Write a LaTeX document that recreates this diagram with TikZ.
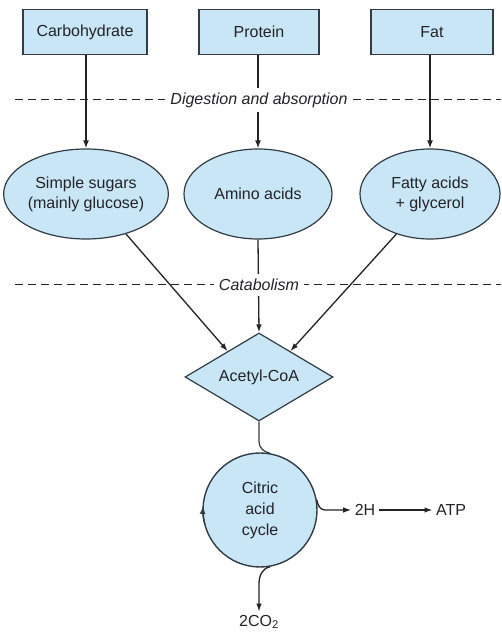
\documentclass[tikz,border=0pt]{standalone}
\usepackage{fontspec}
\setmainfont{Liberation Sans}
\usetikzlibrary{shapes.geometric,arrows.meta,calc}
\definecolor{boxfill}{RGB}{200,230,246}
\definecolor{edge}{RGB}{50,60,68}
\definecolor{ink}{RGB}{35,35,40}
\begin{document}
\begin{tikzpicture}[x=1pt,y=1pt,
  every node/.style={font=\fontsize{16}{20}\selectfont, text=ink},
  foodbox/.style={draw=edge, line width=1.3pt, fill=boxfill, rectangle, minimum height=45pt, inner sep=0pt},
  prodell/.style={draw=edge, line width=1.2pt, fill=boxfill, ellipse, minimum height=90pt, inner sep=0pt, align=center},
  stagelbl/.style={fill=white, inner sep=5pt, font=\itshape\fontsize{16}{20}\selectfont},
  stageline/.style={draw=ink, line width=1pt, dash pattern=on 8pt off 5pt},
  thickarr/.style={draw=ink, line width=1.8pt, -{Latex[length=8pt,width=6pt]}},
  thinarr/.style={draw=ink, line width=1.3pt, -{Latex[length=8pt,width=5.5pt]}},
  plainline/.style={draw=edge, line width=1.2pt}]
\useasboundingbox (0,0) rectangle (501,632);

% source boxes
\node[foodbox, minimum width=124pt] (carb) at (85,600) {Carbohydrate};
\node[foodbox, minimum width=120pt] (prot) at (259,600) {Protein};
\node[foodbox, minimum width=122pt] (fat) at (432,600) {Fat};

% products
\node[prodell, minimum width=145pt] (sugar) at (86,438) {Simple sugars\\(mainly glucose)};
\node[prodell, minimum width=148pt] (amino) at (258,438) {Amino acids};
\node[prodell, minimum width=140pt] (fatty) at (430,438) {Fatty acids\\+ glycerol};

% acetyl-CoA and cycle
\node[draw=edge, line width=1.2pt, fill=boxfill, diamond, aspect=1.7, minimum width=148pt, minimum height=88pt, inner sep=0pt] (ac) at (259,255) {Acetyl-CoA};
\node[draw=edge, line width=1.4pt, fill=boxfill, circle, minimum size=114pt, inner sep=0pt, align=center, font=\fontsize{16}{21}\selectfont] (cyc) at (260,122) {Citric\\acid\\cycle};

\node (h2) at (365,122) {2H};
\node (atp) at (451,122) {ATP};
\node (co2) at (259,10) {2CO\textsubscript{2}};

% stage lines
\coordinate (dgL) at (15,532);
\coordinate (dgR) at (501,532);
\coordinate (ctL) at (15,347);
\coordinate (ctR) at (501,347);
\draw[stageline] (dgL) -- (dgR);
\draw[stageline] (ctL) -- (ctR);

% digestion arrows
\draw[thickarr] (carb.south -| sugar.north) -- (sugar.north);
\draw[thickarr] (prot.south -| amino.north) -- (amino.north);
\draw[thickarr] (fat.south -| fatty.north) -- (fatty.north);

% catabolism arrows
\coordinate (acL) at ($(ac.north)!0.42!(ac.west)$);
\coordinate (acR) at ($(ac.north)!0.42!(ac.east)$);
\draw[thinarr] (sugar.-45) -- (acL);
\draw[thinarr] (amino.south) -- (ac.north);
\draw[thinarr] (fatty.-130) -- (acR);

% stage labels (drawn over lines)
\node[stagelbl] (dglbl) at (259,532) {Digestion and absorption};
\node[stagelbl] (ctlbl) at (259,347) {Catabolism};

% acetyl-CoA into cycle
\draw[plainline] (ac.south) -- ++(0,-20) to[out=-90,in=170] (cyc.80);
% cycle direction arrowhead
\draw[draw=edge, line width=1.3pt, -{Latex[length=8pt,width=6pt]}] ($(cyc.center)+(195:57)$) arc[start angle=195, end angle=176, radius=57];
% outputs
\draw[thinarr] (cyc.10) to[out=-80,in=180] (325,122) -- (h2.west);
\draw[thinarr] (h2.east) -- (atp.west);
\draw[thinarr] (cyc.-80) to[out=190,in=90] (259,48) -- (co2.north);
\end{tikzpicture}
\end{document}
